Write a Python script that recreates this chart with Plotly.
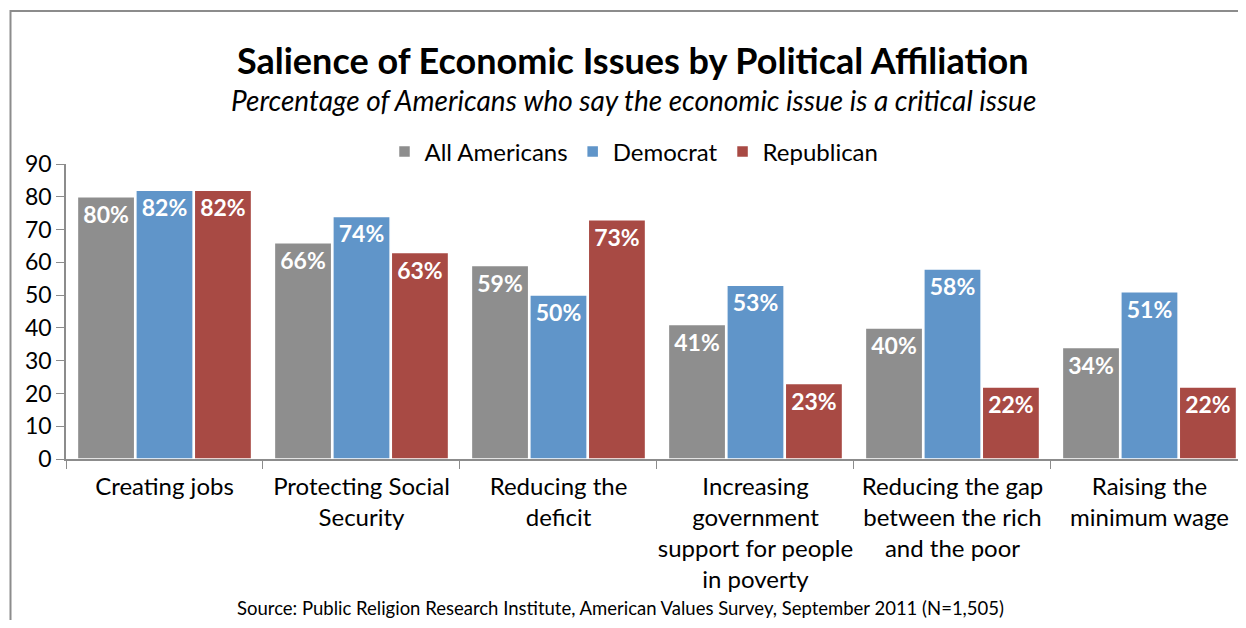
import plotly.graph_objects as go

categories = ["Creating jobs", "Protecting Social<br>Security", "Reducing the<br>deficit",
              "Increasing<br>government<br>support for people<br>in poverty",
              "Reducing the gap<br>between the rich<br>and the poor", "Raising the<br>minimum wage"]
all_americans = [80, 66, 59, 41, 40, 34]
democrat = [82, 74, 50, 53, 58, 51]
republican = [82, 63, 73, 23, 22, 22]
y_ticks = [0, 10, 20, 30, 40, 50, 60, 70, 80, 90]

FONT = "Lato"
series = [("All Americans", all_americans, "#8e8e8e"),
          ("Democrat", democrat, "#6095c9"),
          ("Republican", republican, "#a84a44")]

fig = go.Figure()
for name, vals, col in series:
    fig.add_trace(go.Bar(
        x=categories, y=vals, name=name,
        marker=dict(color=col, line=dict(color="white", width=1.5)),
        text=[f"{v}%" for v in vals], textposition="inside", insidetextanchor="end",
        textfont=dict(family=FONT, size=23, color="white", weight="bold"),
        constraintext="none", cliponaxis=False,
    ))

# page has an 8px body margin; coordinates below are given in page pixels
OFF = 8
W, H = 1238, 612
L = 66 - OFF
T = 164 - OFF
B = H - (459 - OFF)
R = 0
pw = W - L - R
ph = H - T - B

def px(x):
    return (x - OFF - L) / pw

def py(y):
    return (H - B - (y - OFF)) / ph

fig.update_layout(
    width=W, height=H,
    margin=dict(l=L, r=R, t=T, b=B, pad=0, autoexpand=False),
    paper_bgcolor="white", plot_bgcolor="white",
    barmode="group", bargap=0.11, bargroupgap=0.02,
    font=dict(family=FONT, size=24, color="black"),
    showlegend=True,
    legend=dict(orientation="h", x=px(634), xanchor="center", y=py(152), yanchor="middle",
                font=dict(size=24), traceorder="normal"),
    xaxis=dict(showgrid=False, showline=True, linecolor="#8c8c8c", linewidth=1.5,
               ticks="outside", tickson="boundaries", ticklen=8, tickcolor="#8c8c8c",
               tickfont=dict(size=24), range=[-0.5, 5.49], ticklabelstandoff=5,
               tickangle=0, automargin=False),
    yaxis=dict(range=[0, 90], tickvals=y_ticks, showgrid=False, showline=True,
               linecolor="#8c8c8c", linewidth=1.5, ticks="outside", ticklen=8,
               tickcolor="#8c8c8c", tickfont=dict(size=23), zeroline=False, automargin=False),
    shapes=[dict(type="rect", xref="paper", yref="paper",
                 x0=px(10.5), x1=px(1300), y0=py(11), y1=py(700),
                 line=dict(color="#8c8c8c", width=2), fillcolor="rgba(0,0,0,0)", layer="below")],
    annotations=[
        dict(text="<b>Salience of Economic Issues by Political Affiliation</b>", xref="paper", yref="paper",
             x=px(633), y=py(60), xanchor="center", yanchor="middle", showarrow=False,
             font=dict(size=36, family=FONT)),
        dict(text="<i>Percentage of Americans who say the economic issue is a critical issue</i>",
             xref="paper", yref="paper", x=px(633), y=py(100), xanchor="center", yanchor="middle",
             showarrow=False, font=dict(size=28, family=FONT)),
        dict(text="Source: Public Religion Research Institute, American Values Survey, September 2011 (N=1,505)",
             xref="paper", yref="paper", x=px(620), y=py(608), xanchor="center", yanchor="middle",
             showarrow=False, font=dict(size=18.5, family=FONT)),
    ],
)

fig.write_html("out.html")
